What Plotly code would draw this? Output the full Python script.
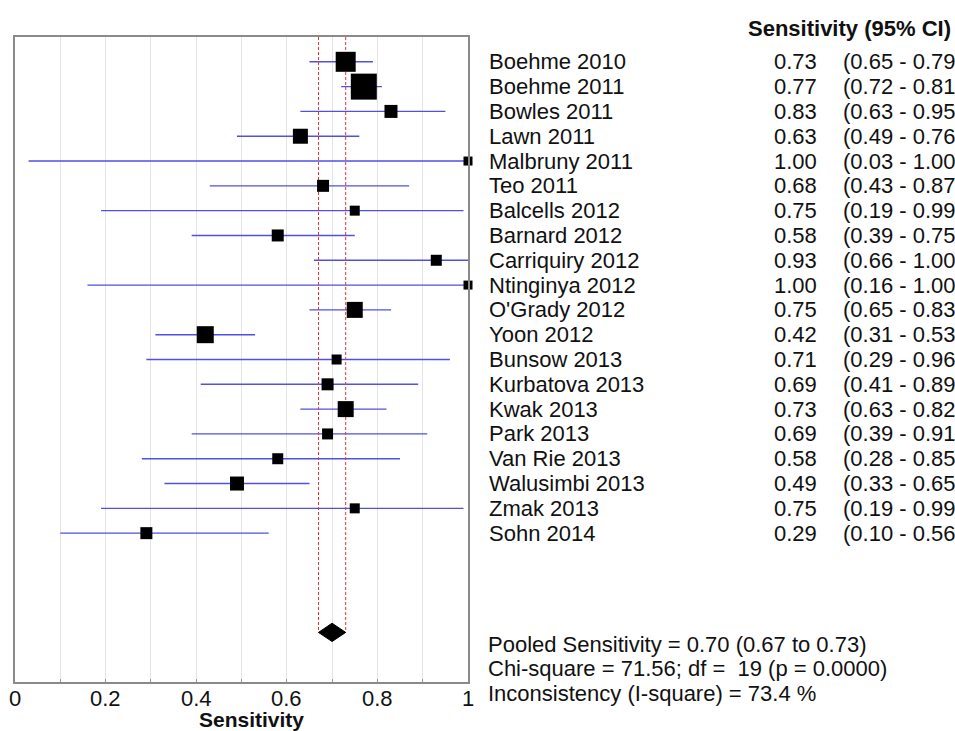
import plotly.graph_objects as go

studies = ["Boehme 2010", "Boehme 2011", "Bowles 2011", "Lawn 2011", "Malbruny 2011",
           "Teo 2011", "Balcells 2012", "Barnard 2012", "Carriquiry 2012", "Ntinginya 2012",
           "O'Grady 2012", "Yoon 2012", "Bunsow 2013", "Kurbatova 2013", "Kwak 2013",
           "Park 2013", "Van Rie 2013", "Walusimbi 2013", "Zmak 2013", "Sohn 2014"]
sens = [0.73, 0.77, 0.83, 0.63, 1.00, 0.68, 0.75, 0.58, 0.93, 1.00,
        0.75, 0.42, 0.71, 0.69, 0.73, 0.69, 0.58, 0.49, 0.75, 0.29]
lo = [0.65, 0.72, 0.63, 0.49, 0.03, 0.43, 0.19, 0.39, 0.66, 0.16,
      0.65, 0.31, 0.29, 0.41, 0.63, 0.39, 0.28, 0.33, 0.19, 0.10]
hi = [0.79, 0.81, 0.95, 0.76, 1.00, 0.87, 0.99, 0.75, 1.00, 1.00,
      0.83, 0.53, 0.96, 0.89, 0.82, 0.91, 0.85, 0.65, 0.99, 0.56]
weights = [20, 26, 13, 15, 9, 12, 10, 12, 11, 9,
           16, 17, 10, 12, 16, 11, 11, 14, 10, 12]  # marker size (study weight)

pooled, pooled_lo, pooled_hi = 0.70, 0.67, 0.73
stats_lines = ["Pooled Sensitivity = 0.70 (0.67 to 0.73)",
               "Chi-square = 71.56; df =  19 (p = 0.0000)",
               "Inconsistency (I-square) = 73.4 %"]
tick_vals = [0, 0.2, 0.4, 0.6, 0.8, 1.0]
tick_text = ["0", "0.2", "0.4", "0.6", "0.8", "1"]

W, H = 955, 731
FONT = "Liberation Sans, Arial, sans-serif"
FS = 22
TXT = "#111"
rows = list(range(len(studies)))
pooled_row = 23

fig = go.Figure()

# CI lines
for i in rows:
    fig.add_trace(go.Scatter(x=[lo[i], hi[i]], y=[i, i], mode="lines",
                             line=dict(color="rgb(80,80,225)", width=1.4),
                             hoverinfo="skip", showlegend=False, cliponaxis=False))

# pooled CI dashed lines
for v in (pooled_lo, pooled_hi):
    fig.add_trace(go.Scatter(x=[v, v], y=[-1, pooled_row], mode="lines",
                             line=dict(color="rgb(235,50,50)", width=1, dash="3px,2px"),
                             hoverinfo="skip", showlegend=False))

# point estimates
fig.add_trace(go.Scatter(x=sens, y=rows, mode="markers",
                         marker=dict(symbol="square", size=weights, color="black",
                                     opacity=1, line=dict(width=0)),
                         showlegend=False, cliponaxis=False))

# pooled diamond
h = 0.37
fig.add_trace(go.Scatter(x=[pooled_lo, pooled, pooled_hi, pooled, pooled_lo],
                         y=[pooled_row, pooled_row - h, pooled_row, pooled_row + h, pooled_row],
                         mode="lines", fill="toself", fillcolor="black",
                         line=dict(color="black", width=1), showlegend=False))

x0p, x1p = 15 / W, 468 / W
y_top_px, y_bot_px = 37, 682
fig.update_layout(
    width=W, height=H,
    margin=dict(l=0, r=0, t=0, b=0),
    paper_bgcolor="white", plot_bgcolor="white",
    font=dict(family=FONT, color=TXT),
    xaxis=dict(domain=[x0p, x1p], range=[0, 1], tickvals=tick_vals, ticktext=tick_text,
               showticklabels=False,
               showgrid=True, gridcolor="#e4e4e4", gridwidth=1,
               minor=dict(dtick=0.1, showgrid=True, gridcolor="#e4e4e4", ticks="inside",
                          ticklen=3, tickcolor="#999"),
               ticks="inside", ticklen=3, tickcolor="#999",
               showline=True, linecolor="#8a8a8a", linewidth=2, mirror=True,
               zeroline=False),
    yaxis=dict(domain=[1 - y_bot_px / H, 1 - y_top_px / H], range=[25, -1],
               showgrid=False, zeroline=False, showticklabels=False, ticks="",
               showline=True, linecolor="#8a8a8a", linewidth=2, mirror=True),
)

# x tick labels (placed on the x axis scale)
for tv, tt in zip(tick_vals, tick_text):
    fig.add_annotation(text=tt, xref="x", yref="paper", x=tv, y=1 - 698 / H,
                       xanchor="center", yanchor="middle", showarrow=False,
                       font=dict(size=FS, family=FONT, color=TXT))

# axis title
fig.add_annotation(text="<b>Sensitivity</b>", xref="paper", yref="paper",
                   x=251 / W, y=1 - 719 / H, xanchor="center", yanchor="middle",
                   showarrow=False, font=dict(size=21, family=FONT, color=TXT))

# header
fig.add_annotation(text="<b>Sensitivity (95% CI)</b>", xref="paper", yref="paper",
                   x=746 / W, y=1 - 28 / H, xanchor="left", yanchor="middle",
                   showarrow=False, font=dict(size=FS, family=FONT, color=TXT))

for i in rows:
    fig.add_annotation(text=studies[i], xref="paper", yref="y", x=487 / W, y=i,
                       xanchor="left", yanchor="middle", showarrow=False,
                       font=dict(size=FS, family=FONT, color=TXT))
    fig.add_annotation(text=f"{sens[i]:.2f}", xref="paper", yref="y", x=819 / W, y=i,
                       xanchor="right", yanchor="middle", showarrow=False,
                       font=dict(size=FS, family=FONT, color=TXT))
    fig.add_annotation(text=f"({lo[i]:.2f} - {hi[i]:.2f})", xref="paper", yref="y",
                       x=841 / W, y=i, xanchor="left", yanchor="middle", showarrow=False,
                       font=dict(size=FS, family=FONT, color=TXT))

for k, line in enumerate(stats_lines):
    fig.add_annotation(text=line.replace("  ", "&nbsp; "), xref="paper", yref="paper",
                       x=486 / W, y=1 - (644 + 24.5 * k) / H, xanchor="left",
                       yanchor="middle", showarrow=False,
                       font=dict(size=FS, family=FONT, color=TXT))

fig.write_html("out.html", config={"displayModeBar": False},
               post_script="document.body.style.margin='0';")
